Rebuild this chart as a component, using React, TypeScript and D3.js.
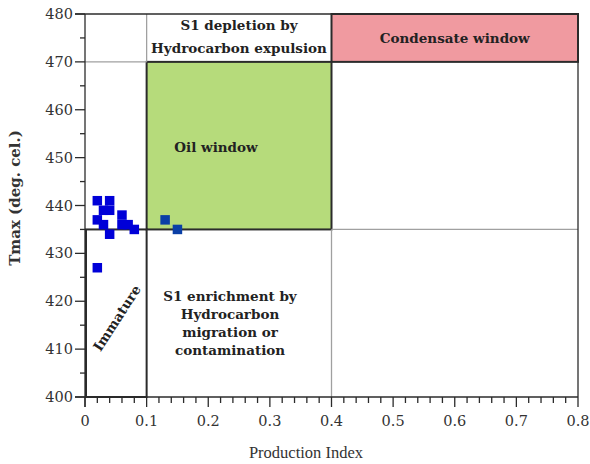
import React from "react";
import * as d3 from "d3";

const xTicks = [0, 0.1, 0.2, 0.3, 0.4, 0.5, 0.6, 0.7, 0.8];
const xTickLabels = ["0", "0.1", "0.2", "0.3", "0.4", "0.5", "0.6", "0.7", "0.8"];
const xMinor = [0.02, 0.04, 0.06, 0.08, 0.12, 0.14, 0.16, 0.18, 0.22, 0.24, 0.26, 0.28, 0.32, 0.34, 0.36, 0.38, 0.42, 0.44, 0.46, 0.48, 0.52, 0.54, 0.56, 0.58, 0.62, 0.64, 0.66, 0.68, 0.72, 0.74, 0.76, 0.78];
const yTicks = [400, 410, 420, 430, 440, 450, 460, 470, 480];
const yMinor = [405, 415, 425, 435, 445, 455, 465, 475];

// samples (immature / early mature)
const piA = [0.02, 0.04, 0.02, 0.03, 0.04, 0.03, 0.04, 0.06, 0.06, 0.07, 0.08, 0.02];
const tmaxA = [441, 441, 437, 439, 439, 436, 434, 438, 436, 436, 435, 427];
// samples in oil window
const piB = [0.13, 0.15];
const tmaxB = [437, 435];

const W = 590, H = 464;
const x = d3.scaleLinear().domain([0, 0.8]).range([85, 578]);
const y = d3.scaleLinear().domain([400, 480]).range([397, 14]);

const FONT = "'DejaVu Serif', serif";
const dark = "#2b2b2b";
const grey = "#a0a0a0";

export default function App() {
  const sq = 9.5;
  return (
    <svg width={W} height={H} style={{ position: "absolute", left: 0, top: 0, background: "#fff" }} fontFamily={FONT}>
      {/* region boxes */}
      <rect x={x(0.4)} y={y(480)} width={x(0.8) - x(0.4)} height={y(470) - y(480)} fill="#f09aa0" stroke={dark} strokeWidth={2} />
      <rect x={x(0.1)} y={y(470)} width={x(0.4) - x(0.1)} height={y(435) - y(470)} fill="#b6db7b" stroke={dark} strokeWidth={2} />
      <rect x={x(0) + 1} y={y(435)} width={x(0.1) - x(0) - 1} height={y(400) - y(435)} fill="none" stroke={dark} strokeWidth={2} />
      {/* grey divider lines */}
      <line x1={x(0)} x2={x(0.1)} y1={y(470)} y2={y(470)} stroke={grey} strokeWidth={1.3} />
      <line x1={x(0.1)} x2={x(0.1)} y1={y(480)} y2={y(470)} stroke={grey} strokeWidth={1.3} />
      <line x1={x(0.4)} x2={x(0.8)} y1={y(435)} y2={y(435)} stroke={grey} strokeWidth={1.3} />
      <line x1={x(0.4)} x2={x(0.4)} y1={y(435)} y2={y(400)} stroke={grey} strokeWidth={1.3} />
      {/* frame */}
      <line x1={x(0.8)} x2={x(0.8)} y1={y(480)} y2={y(400)} stroke={dark} strokeWidth={1.3} />
      <line x1={x(0) - 10} x2={x(0.8)} y1={y(480)} y2={y(480)} stroke={dark} strokeWidth={1.3} />
      {/* axes */}
      <line x1={x(0)} x2={x(0)} y1={y(480)} y2={y(400) + 10} stroke={dark} strokeWidth={1.3} />
      <line x1={x(0) - 10} x2={x(0.8)} y1={y(400)} y2={y(400)} stroke={dark} strokeWidth={1.3} />
      {yTicks.map((t) => (
        <g key={"yt" + t}>
          <line x1={x(0) - 10} x2={x(0)} y1={y(t)} y2={y(t)} stroke={dark} strokeWidth={1.3} />
          <text x={x(0) - 12} y={y(t)} dy="0.35em" textAnchor="end" fontSize={14.5} fill="#333">{t}</text>
        </g>
      ))}
      {yMinor.map((t) => (
        <line key={"ym" + t} x1={x(0) - 5} x2={x(0)} y1={y(t)} y2={y(t)} stroke={dark} strokeWidth={1.3} />
      ))}
      {xTicks.map((t, i) => (
        <g key={"xt" + t}>
          <line x1={x(t)} x2={x(t)} y1={y(400)} y2={y(400) + 10} stroke={dark} strokeWidth={1.3} />
          <text x={x(t)} y={y(400) + 29} textAnchor="middle" fontSize={14.5} fill="#333">{xTickLabels[i]}</text>
        </g>
      ))}
      {xMinor.map((t) => (
        <line key={"xm" + t} x1={x(t)} x2={x(t)} y1={y(400)} y2={y(400) + 6} stroke={dark} strokeWidth={1.3} />
      ))}
      {/* axis titles */}
      <text x={306} y={458} textAnchor="middle" fontSize={16.5} fontFamily="'Liberation Serif', serif" fill="#333">Production Index</text>
      <text transform={`translate(20,${198}) rotate(-90)`} textAnchor="middle" fontSize={15} fontWeight="bold" fill="#333">Tmax (deg. cel.)</text>
      {/* region labels */}
      <g fontWeight="bold" fontSize={13.5} fill="#222" textAnchor="middle">
        <text x={239} y={30}>S1 depletion by</text>
        <text x={239} y={53}>Hydrocarbon expulsion</text>
        <text x={(x(0.4) + x(0.8)) / 2} y={43}>Condensate window</text>
        <text x={216} y={152}>Oil window</text>
        <text x={230} y={301}>S1 enrichment by</text>
        <text x={230} y={319}>Hydrocarbon</text>
        <text x={230} y={337}>migration or</text>
        <text x={230} y={355}>contamination</text>
        <text transform="translate(117,318) rotate(-57)" dy="0.35em">Immature</text>
      </g>
      {/* samples */}
      {piA.map((p, i) => (
        <rect key={"a" + i} x={x(p) - sq / 2} y={y(tmaxA[i]) - sq / 2} width={sq} height={sq} fill="#0000d8" />
      ))}
      {piB.map((p, i) => (
        <rect key={"b" + i} x={x(p) - sq / 2} y={y(tmaxB[i]) - sq / 2} width={sq} height={sq} fill="#0a3fa6" />
      ))}
    </svg>
  );
}
